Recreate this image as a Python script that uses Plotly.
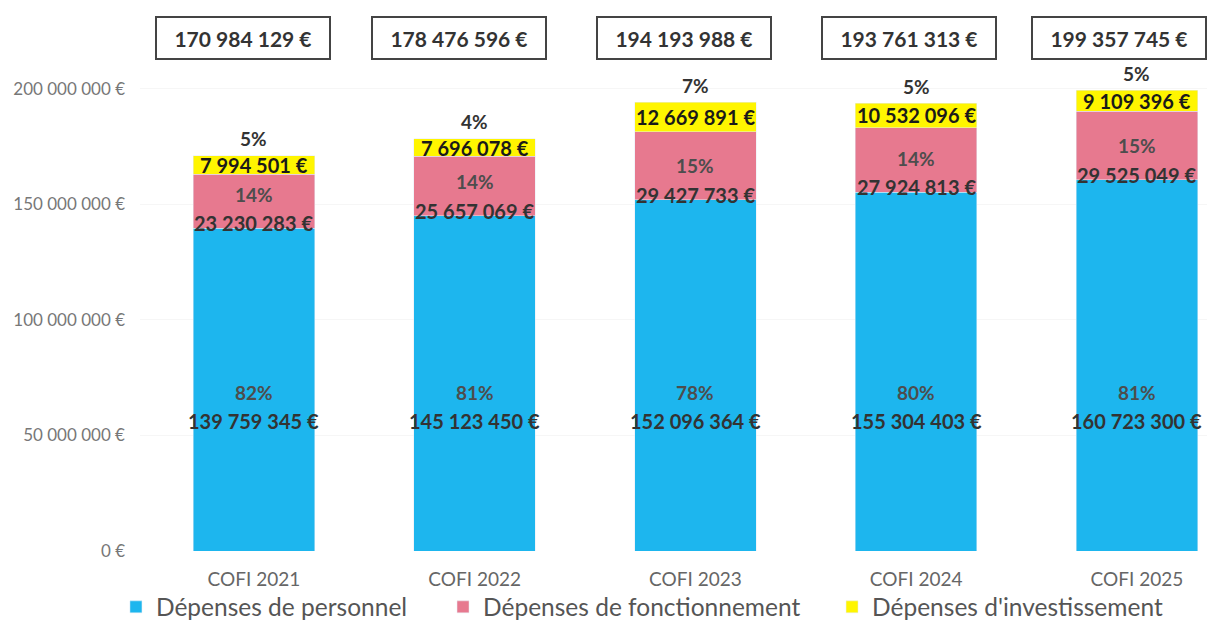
import plotly.graph_objects as go

# data
categories = ["COFI 2021", "COFI 2022", "COFI 2023", "COFI 2024", "COFI 2025"]
personnel = [139759345, 145123450, 152096364, 155304403, 160723300]
fonctionnement = [23230283, 25657069, 29427733, 27924813, 29525049]
investissement = [7994501, 7696078, 12669891, 10532096, 9109396]
totals = [170984129, 178476596, 194193988, 193761313, 199357745]

BLUE = "#1DB6EE"
PINK = "#E7798F"
YELLOW = "#FFF500"
FONT = "Lato"
TXT = "#333333"
PCT = "#4d4d4d"

# the total boxes sit a little left of their bars in the original
box_shift = [-11, -16, -11, -7, -18]


def fmt(v):
	return f"{v:,.0f}".replace(",", " ") + " €"


def pct(v, t):
	return f"{round(100 * v / t)}%"


fig = go.Figure()
fig.add_trace(go.Bar(x=categories, y=personnel, name="Dépenses de personnel",
	marker_color=BLUE, width=0.55, hoverinfo="skip", legend="legend"))
fig.add_trace(go.Bar(x=categories, y=fonctionnement, name="Dépenses de fonctionnement",
	marker_color=PINK, width=0.55, hoverinfo="skip", legend="legend2"))
fig.add_trace(go.Bar(x=categories, y=investissement, name="Dépenses d'investissement",
	marker_color=YELLOW, width=0.55, hoverinfo="skip", legend="legend3"))

annotations = []
for i, c in enumerate(categories):
	p, f, inv, tot = personnel[i], fonctionnement[i], investissement[i], totals[i]
	lbl = dict(x=c, xref="x", yref="y", showarrow=False,
		font=dict(family=FONT, size=20, color=TXT, weight="bold"))
	plbl = dict(lbl, font=dict(family=FONT, size=19, color=PCT, weight="bold"))
	# personnel labels (fixed height inside the blue bar)
	annotations.append(dict(plbl, y=68.7e6, text=pct(p, tot)))
	annotations.append(dict(lbl, y=56.3e6, text=fmt(p)))
	# fonctionnement labels
	annotations.append(dict(plbl, y=p, yshift=34, text=pct(f, tot)))
	annotations.append(dict(lbl, y=p, yshift=5, text=fmt(f)))
	# investissement labels
	annotations.append(dict(lbl, y=p + f + inv / 2, text=fmt(inv),
		font=dict(family=FONT, size=20, color="#1a1a1a", weight="bold")))
	annotations.append(dict(lbl, y=p + f + inv, yshift=17, text=pct(inv, tot),
		font=dict(family=FONT, size=19, color=TXT, weight="bold")))
	# total boxes
	annotations.append(dict(x=c, xref="x", yref="y", y=222e6, showarrow=False,
		xshift=box_shift[i],
		text=fmt(tot), font=dict(family=FONT, size=21, color=TXT, weight="bold"),
		bordercolor="#444", borderwidth=2, borderpad=0, bgcolor="white",
		width=172, height=40))

leg = dict(
	orientation="h",
	yref="container",
	y=0.034, yanchor="middle", xanchor="left",
	font=dict(family=FONT, size=24.5, color="#555"),
	itemwidth=30,
	bgcolor="rgba(0,0,0,0)",
)

fig.update_layout(
	barmode="stack",
	width=1215,
	height=620,
	margin=dict(l=132, r=0, t=0, b=77),
	plot_bgcolor="white",
	paper_bgcolor="white",
	font=dict(family=FONT, color="#777"),
	annotations=annotations,
	showlegend=True,
	legend=dict(leg, x=-0.0222),
	legend2=dict(leg, x=0.2798),
	legend3=dict(leg, x=0.639),
)
fig.update_yaxes(
	range=[0, 235e6],
	tickvals=[0, 50e6, 100e6, 150e6, 200e6],
	ticktext=["0 €", "50 000 000 €", "100 000 000 €", "150 000 000 €", "200 000 000 €"],
	tickfont=dict(family=FONT, size=17, color="#777"),
	showgrid=True,
	gridcolor="#f6f6f6",
	zeroline=False,
	ticklabelstandoff=14,
	automargin=False,
)
fig.update_xaxes(
	range=[-0.516, 4.39],
	tickfont=dict(family=FONT, size=19, color="#666"),
	showline=False,
	ticklabelstandoff=15,
	automargin=False,
)

fig.write_html("out.html")
